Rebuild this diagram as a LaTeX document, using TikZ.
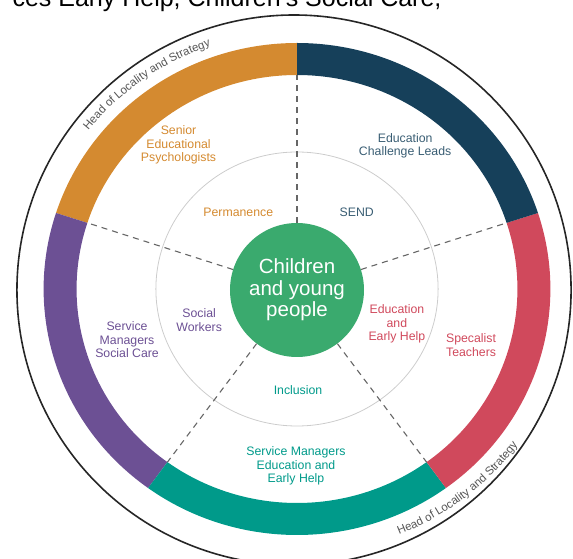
\documentclass[tikz,border=0pt]{standalone}
\usepackage{fontspec}
\setmainfont{Liberation Sans}
\usetikzlibrary{decorations.text}
\definecolor{orng}{RGB}{212,138,48}
\definecolor{navy}{RGB}{22,64,90}
\definecolor{crim}{RGB}{208,73,92}
\definecolor{teal}{RGB}{0,154,138}
\definecolor{purp}{RGB}{108,80,148}
\definecolor{cygreen}{RGB}{58,170,110}
\definecolor{hlgray}{RGB}{85,85,85}
\begin{document}
\begin{tikzpicture}[x=1.03pt,y=1pt,hub/.style={circle, fill=cygreen, text=white,
    minimum size=134pt, inner sep=0pt, align=center,
    font=\fontsize{20.5}{21.5}\selectfont},lbl/.style={align=center,
    font=\fontsize{12.3}{13.6}\selectfont},divider/.style={draw=black!60,
    line width=1.1pt, dash pattern=on 6pt off 5pt},]

	\useasboundingbox (-288.35,-270) rectangle (267.96,289);

	\node [anchor=base east,font=\fontsize{25}{25}\selectfont] (hdr) at (143.7,282) {ces Early Help, Children's Social Care,};

	\draw [line width=1.6pt,black!85] (-2.9,-1) ellipse [x radius=269, y radius=275];

	\foreach \a/\b/\c in {90/162/orng, 162/234/purp, 234/306/teal, 306/378/crim, 18/90/navy}
	  \fill [\c] (\a:246) arc (\a:\b:246) -- (\b:214) arc (\b:\a:214) -- cycle;

	\draw [black!20,line width=0.8pt] (0,0) circle [radius=137];

	\node [hub] (hub) at (0,-1) {Children\\and young\\people};

	\foreach \t [count=\i] in {90,18,-54,-126,162} {
	  \coordinate (d\i) at (\t:214);
	  \draw [divider] (hub) -- (d\i);
	}

	\node [lbl,text=orng] (sep) at (-115,144) {Senior\\Educational\\Psychologists};
	\node [lbl,text=navy!85] (ecl) at (105,143) {Education\\Challenge Leads};
	\node [lbl,text=crim] (spt) at (169,-56) {Specalist\\Teachers};
	\node [lbl,text=teal] (sme) at (-1,-177) {Service Managers\\Education and\\Early Help};
	\node [lbl,text=purp] (sms) at (-165,-51) {Service\\Managers\\Social Care};
	\node [lbl,text=orng] (perm) at (-57,77) {Permanence};
	\node [lbl,text=navy!85] (send) at (58,77) {SEND};
	\node [lbl,text=crim] (eeh) at (97,-35) {Education\\and\\Early Help};
	\node [lbl,text=purp] (sw) at (-95,-31) {Social\\Workers};
	\node [lbl,text=teal] (incl) at (1,-101) {Inclusion};

	\path [decorate,decoration={text along path,text align=center,
	  text={|\fontsize{11.5}{12}\selectfont\color{hlgray}|Head of Locality and Strategy}}]
	  (143:257) arc (143:108:257);
	\path [decorate,decoration={text along path,text align=center,
	  text={|\fontsize{11.5}{12}\selectfont\color{hlgray}|Head of Locality and Strategy}}]
	  (-70:265) arc (-70:-34:265);

\end{tikzpicture}
\end{document}
